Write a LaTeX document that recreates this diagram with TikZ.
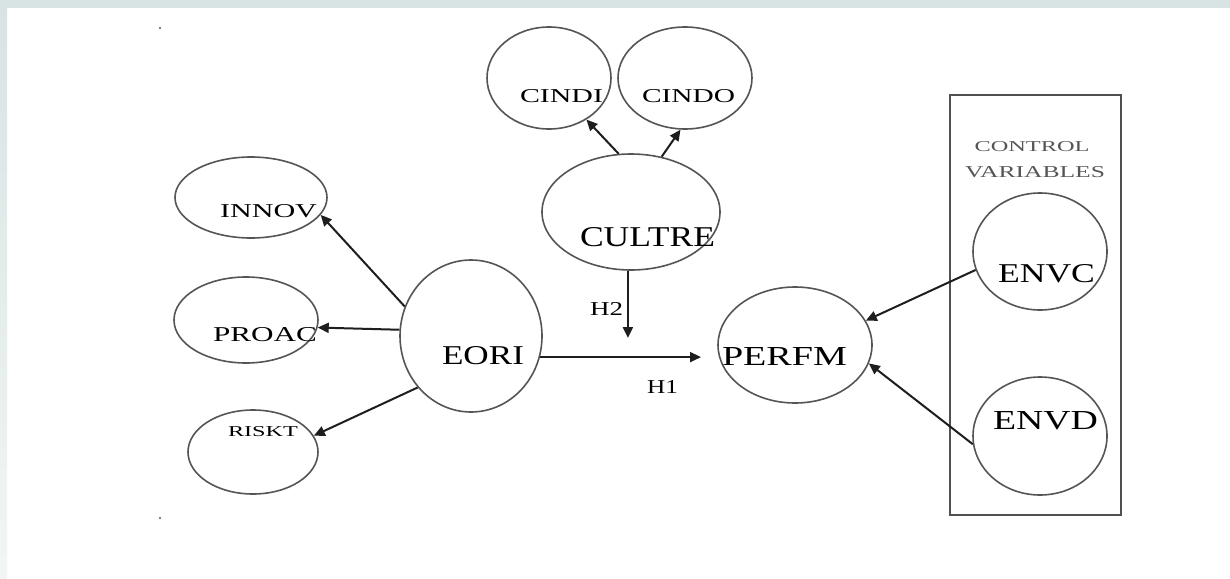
\documentclass[tikz,border=0pt]{standalone}
\usepackage{fontspec}
\setmainfont{Liberation Serif}
\usetikzlibrary{shapes.geometric,arrows.meta}
\definecolor{outl}{HTML}{555555}
\definecolor{arr}{HTML}{1E1E1E}
\definecolor{band}{HTML}{D8E3E3}
\definecolor{boxc}{HTML}{505050}
\newcommand{\rl}[3]{\resizebox{#1pt}{#2pt}{#3}}
\begin{document}
\begin{tikzpicture}[x=0.5pt,y=-0.5pt,
  ell/.style={draw=outl, line width=0.8pt, ellipse, inner sep=0pt},
  lab/.style={inner sep=0pt, text=black},
  small/.style={inner sep=0pt, text=outl},
  con/.style={draw=arr, line width=1pt, -{Triangle[length=5.5pt,width=5pt]}}]
\fill[white] (0,0) rectangle (1230,578);
\shade[top color=band, bottom color=band!35!white] (0,0) rectangle (7,578);
\fill[band] (0,0) rectangle (1230,8);
\useasboundingbox (0,0) rectangle (1230,578);
\fill[outl] (160,28) circle (0.6pt);
\fill[outl] (160,518) circle (0.6pt);

% control box
\node[draw=boxc, line width=1pt, minimum width=85.5pt, minimum height=210pt, inner sep=0pt] (box) at (1035.5,305) {};
\node[small] (ctl1) at (1032,147) {\rl{57.5}{5}{CONTROL}};
\node[small] (ctl2) at (1035,172.5) {\rl{70}{5.5}{VARIABLES}};

% ellipses
\node[ell, minimum width=62pt, minimum height=51pt] (cindi) at (549,78) {};
\node[ell, minimum width=67pt, minimum height=51pt] (cindo) at (685,78) {};
\node[ell, minimum width=89pt, minimum height=58pt] (cultre) at (631,212) {};
\node[ell, minimum width=76pt, minimum height=40.5pt] (innov) at (251,197.5) {};
\node[ell, minimum width=72pt, minimum height=43pt] (proac) at (246,320) {};
\node[ell, minimum width=65pt, minimum height=42pt] (riskt) at (253,452) {};
\node[ell, minimum width=71pt, minimum height=76pt] (eori) at (471,336) {};
\node[ell, minimum width=77pt, minimum height=58pt] (perfm) at (795,345) {};
\node[ell, minimum width=67pt, minimum height=58.5pt] (envc) at (1040,251.5) {};
\node[ell, minimum width=67pt, minimum height=59pt] (envd) at (1040,436) {};

% labels
\node[lab] (tcindi) at (561.5,96.5) {\rl{41.5}{6.5}{CINDI}};
\node[lab] (tcindo) at (688.5,96.5) {\rl{46.5}{6.5}{CINDO}};
\node[lab] (tcultre) at (647.5,237) {\rl{67.5}{9.5}{CULTRE}};
\node[lab] (tinnov) at (268.5,211.5) {\rl{48.5}{6.5}{INNOV}};
\node[lab] (tproac) at (265,335) {\rl{52}{7}{PROAC}};
\node[lab] (triskt) at (263,432) {\rl{35}{5}{RISKT}};
\node[lab] (teori) at (483,356) {\rl{41}{9}{EORI}};
\node[lab] (tperfm) at (784.5,356) {\rl{62.5}{9}{PERFM}};
\node[lab] (tenvc) at (1046.5,274) {\rl{48.5}{9}{ENVC}};
\node[lab] (tenvd) at (1045.5,421) {\rl{52.5}{9}{ENVD}};
\node[lab] (th2) at (606.5,308.5) {\rl{16.5}{6.5}{H2}};
\node[lab] (th1) at (662.5,386.5) {\rl{15.5}{6.5}{H1}};

% free ends
\coordinate (h1end) at (701,357);
\coordinate (h2end) at (627,338);

% connectors
\draw[con] (eori.-17.5) -- (eori.-17.5 -| h1end);
\draw[con] (eori.156) -- (innov.-14.6);
\draw[con] (eori.175) -- (proac.-6);
\draw[con] (eori.224.5) -- (riskt.15);
\draw[con] (cultre.102.4) -- (cindi.-48);
\draw[con] (cultre.61.5) -- (cindo.-95.5);
\draw[con] (cultre.-93.8) -- (cultre.-93.8 |- h2end);
\draw[con] (envc.196.3) -- (perfm.19.4);
\draw[con] (envd.187.7) -- (perfm.-14.6);
\end{tikzpicture}
\end{document}
